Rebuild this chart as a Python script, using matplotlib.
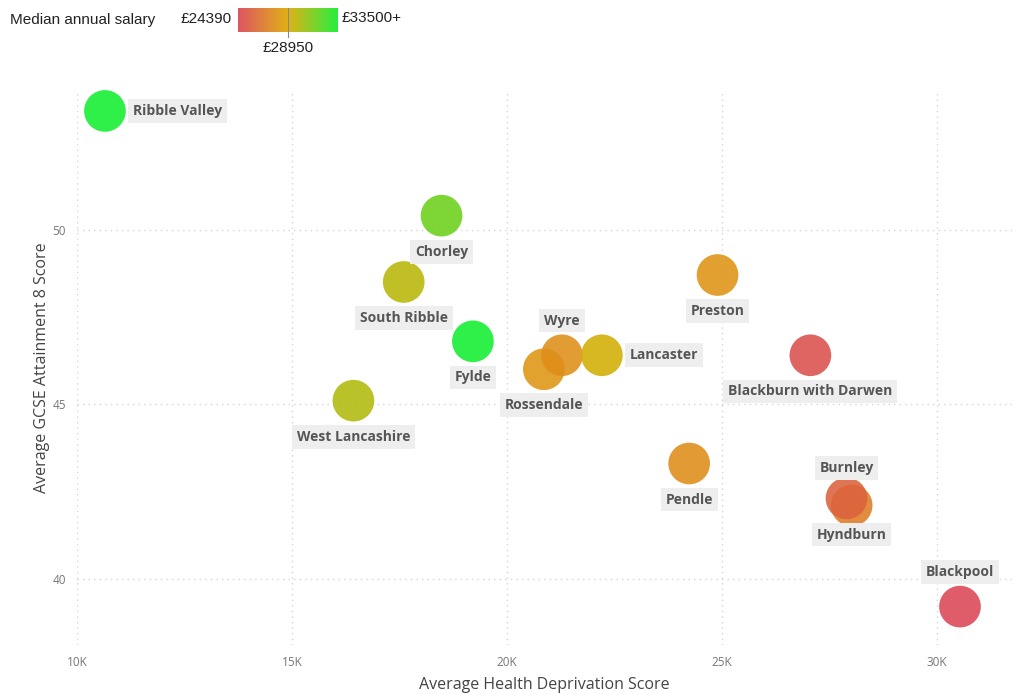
import matplotlib
matplotlib.use("Agg")
import matplotlib.pyplot as plt
import numpy as np
from matplotlib.colors import LinearSegmentedColormap, TwoSlopeNorm
from matplotlib.ticker import FuncFormatter

plt.rcParams["font.family"] = ["Open Sans", "DejaVu Sans"]

# Lancashire districts: deprivation vs GCSE score, coloured by salary
districts = ["Ribble Valley", "Chorley", "South Ribble", "Fylde", "West Lancashire",
             "Rossendale", "Wyre", "Lancaster", "Preston", "Blackburn with Darwen",
             "Pendle", "Hyndburn", "Burnley", "Blackpool"]
health_dep = [10650, 18480, 17600, 19210, 16430, 20860, 21280, 22210, 24900, 27060,
              24240, 28020, 27900, 30540]
gcse_score = [53.4, 50.4, 48.5, 46.8, 45.1, 46.0, 46.4, 46.4, 48.7, 46.4,
              43.3, 42.1, 42.3, 39.2]
salary = [36000, 31500, 29800, 34000, 30000, 28000, 27700, 29200, 27900, 24900,
          27600, 26900, 25700, 24390]

# label offset from bubble centre, in points
label_dx = [20, 0, 0, 0, 0, 0, 0, 20, 0, 0, 0, 0, 0, 0]
label_dy = [0, -26, -26, -26, -26, -26, 25, 0, -26, -26, -26, -21, 22, 25]

sal_min, sal_mid, sal_max = 24390, 28950, 33500

cmap = LinearSegmentedColormap.from_list(
    "salary", [(0.0, "#DB4555"), (0.5, "#DFAA00"), (1.0, "#12EE2E")])
norm = TwoSlopeNorm(vmin=sal_min, vcenter=sal_mid, vmax=sal_max)

fig = plt.figure(figsize=(10.14, 6.95), dpi=100)
ax = fig.add_axes([77 / 1014, 50 / 695, 935 / 1014, 555 / 695])

colors = [cmap(norm(min(s, sal_max))) for s in salary]
ax.scatter(health_dep, gcse_score, s=900, c=colors, alpha=0.88, linewidths=0, zorder=3)

for name, x, y, dx, dy in zip(districts, health_dep, gcse_score, label_dx, label_dy):
    ax.annotate(name, (x, y), xytext=(dx, dy), textcoords="offset points",
                ha="left" if dx > 0 else "center", va="center",
                fontsize=10, fontweight="bold", color="#555555",
                bbox=dict(boxstyle="square,pad=0.35", fc="#EEEEEE", ec="none"),
                zorder=4)

ax.set_xlim(10000, 31750)
ax.set_ylim(38.1, 54.0)
ax.set_xticks([10000, 15000, 20000, 25000, 30000])
ax.set_yticks([40, 45, 50])
ax.xaxis.set_major_formatter(FuncFormatter(lambda v, p: f"{int(v / 1000)}K"))
ax.tick_params(length=0, labelsize=8.5, labelcolor="#777777", pad=8)
ax.grid(True, linestyle=(0, (1, 3)), color="#D5D5D5", linewidth=1)
for sp in ax.spines.values():
    sp.set_visible(False)
ax.set_xlabel("Average Health Deprivation Score", fontsize=11.5, color="#444444", labelpad=6)
ax.set_ylabel("Average GCSE Attainment 8 Score", fontsize=11.5, color="#444444", labelpad=2)

# salary legend across the top
legend_font = ["Liberation Sans", "DejaVu Sans"]
fig.text(10 / 1014, 1 - 20 / 695, "Median annual salary", fontsize=11,
         family=legend_font, color="#222222", va="center")
fig.text(232 / 1014, 1 - 19 / 695, f"£{sal_min}", fontsize=11,
         family=legend_font, color="#222222", va="center", ha="right")
fig.text(342 / 1014, 1 - 18 / 695, f"£{sal_max}+", fontsize=11,
         family=legend_font, color="#222222", va="center", ha="left")
fig.text(288 / 1014, 1 - 48 / 695, f"£{sal_mid}", fontsize=11,
         family=legend_font, color="#222222", va="center", ha="center")

cax = fig.add_axes([238 / 1014, 1 - 32 / 695, 99 / 1014, 24 / 695])
grad = np.linspace(0, 1, 256).reshape(1, -1)
cax.imshow(grad, aspect="auto", cmap=cmap, extent=(0, 1, 0, 1), alpha=0.92)
cax.set_xlim(0, 1)
cax.set_ylim(0, 1)
cax.plot([0.5, 0.5], [-0.22, 1], color="#888888", linewidth=0.8, clip_on=False)
cax.axis("off")

fig.savefig("out.png", dpi=100)
